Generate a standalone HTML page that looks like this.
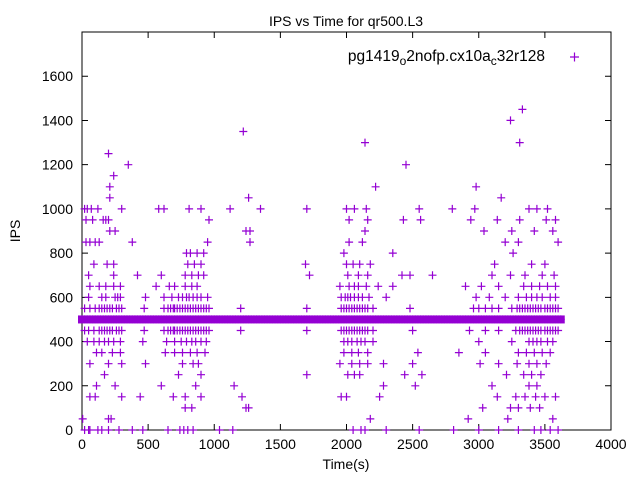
<!DOCTYPE html>
<html><head><meta charset="utf-8"><style>
body{margin:0;background:#fff}
svg{display:block;font-family:"Liberation Sans",sans-serif}
</style></head><body>
<svg id="chart" width="640" height="480">
<text x="346" y="26" text-anchor="middle" font-size="14">IPS vs Time for qr500.L3</text>
<text x="346" y="469" text-anchor="middle" font-size="14">Time(s)</text>
<text transform="translate(20,231) rotate(-90)" text-anchor="middle" font-size="14">IPS</text>
<g id="axes"></g>
<g id="marks"></g>
<g>
<text x="545" y="61" text-anchor="end" font-size="15.5">pg1419<tspan font-size="12" dy="4">o</tspan><tspan dy="-4">2nofp.cx10a</tspan><tspan font-size="12" dy="4">c</tspan><tspan dy="-4">32r128</tspan></text>
<path d="M570,57h9M574.5,52.5v9" stroke="#9400d3" stroke-width="1.2"/>
</g>
</svg>
<script>
const xTicks=[0,500,1000,1500,2000,2500,3000,3500,4000];
const yTicks=[0,200,400,600,800,1000,1200,1400,1600];
const bandTimes=[0,20,40,60,80,100,120,140,160,180,200,220,240,260,280,300,320,340,360,380,400,420,440,460,480,500,520,540,560,580,600,620,640,660,680,700,720,740,760,780,800,820,840,860,880,900,920,940,960,980,1000,1020,1040,1060,1080,1100,1120,1140,1160,1180,1200,1220,1240,1260,1280,1300,1320,1340,1360,1380,1400,1420,1440,1460,1480,1500,1520,1540,1560,1580,1600,1620,1640,1660,1680,1700,1720,1740,1760,1780,1800,1820,1840,1860,1880,1900,1920,1940,1960,1980,2000,2020,2040,2060,2080,2100,2120,2140,2160,2180,2200,2220,2240,2260,2280,2300,2320,2340,2360,2380,2400,2420,2440,2460,2480,2500,2520,2540,2560,2580,2600,2620,2640,2660,2680,2700,2720,2740,2760,2780,2800,2820,2840,2860,2880,2900,2920,2940,2960,2980,3000,3020,3040,3060,3080,3100,3120,3140,3160,3180,3200,3220,3240,3260,3280,3300,3320,3340,3360,3380,3400,3420,3440,3460,3480,3500,3520,3540,3560,3580,3600,3620];
const bandValue=500;
const levels=[550,450,600,400,650,350,700,300,750,250,800,200,850,150,900,100,950,50,1000,0];
const levelTimes=[
[20,60,100,130,150,170,190,210,230,260,280,300,470,620,650,670,690,700,720,740,760,780,800,820,840,860,880,900,920,940,960,1200,1700,1960,1980,2000,2020,2040,2060,2080,2100,2120,2140,2160,2200,2480,2960,3000,3050,3100,3150,3250,3290,3310,3330,3350,3370,3390,3410,3430,3450,3470,3500,3520,3540,3560,3580,3600],
[20,50,90,130,150,170,190,210,230,260,280,300,470,620,650,670,690,700,720,740,760,780,800,820,840,860,880,900,920,940,960,1200,1700,1960,1980,2000,2020,2040,2060,2080,2100,2120,2140,2160,2200,2500,2930,3050,3150,3280,3310,3330,3350,3370,3390,3410,3430,3450,3470,3500,3520,3540,3560,3580,3600],
[50,150,180,250,270,290,480,620,680,730,760,790,810,840,870,900,950,1960,1990,2010,2030,2060,2090,2120,2170,2300,2980,3080,3200,3300,3360,3400,3440,3480,3540,3580],
[40,90,130,170,200,240,290,460,640,700,750,790,830,860,900,940,1980,2010,2040,2080,2110,2140,2200,3000,3250,3380,3410,3440,3470,3520,3560],
[60,130,180,240,290,560,660,700,780,830,870,1950,2020,2060,2090,2150,2240,2350,2900,3020,3150,3340,3400,3460,3520,3580],
[110,150,230,290,630,700,760,820,870,930,1980,2040,2090,2160,2540,2850,3050,3300,3360,3420,3480,3540],
[50,240,420,600,780,830,880,920,1720,2010,2090,2160,2420,2480,2650,3100,3240,3350,3480,3570],
[60,200,300,480,760,840,880,1950,2040,2100,2160,2280,2500,3010,3150,3290,3380,3440,3510],
[90,190,240,800,850,900,1690,2000,2050,2100,2180,3120,3400,3500],
[170,730,900,1700,2010,2060,2100,2440,2570,3210,3340,3400,3470],
[790,820,870,920,1980,2350,3260],
[110,250,600,860,1150,2280,2520,3100,3380,3440],
[30,60,100,130,380,950,1270,2020,2120,3200,3300,3600],
[60,100,300,440,690,780,900,1210,1960,2000,2250,3140,3280,3350,3430,3500,3580],
[210,250,1240,1270,2140,3040,3250,3420,3560],
[780,830,1240,1260,3030,3240,3300,3390,3460],
[30,80,160,180,200,960,2020,2160,2430,2560,2940,3140,3310,3510,3580],
[5,200,220,2180,2920,3220,3560],
[20,40,70,120,300,580,620,810,900,1120,1350,1700,2000,2060,2150,2550,2800,2970,3380,3440,3520],
[20,50,60,120,150,200,280,380,460,650,740,770,800,840,1040,1140,2050,2110,2140,2300,2550,2810,3000,3150,3300,3420,3470,3540,3600]];
const extraTimes=[200,210,240,210,350,1220,1260,2140,2220,2450,2980,3240,3310,3330,3170];
const extraValues=[1250,1100,1150,1050,1200,1350,1050,1300,1100,1200,1100,1400,1300,1450,1050];

const L=82,R=611,T=32,B=430;
const sx=t=>L+(t-0)/4000*(R-L);
const sy=v=>B-v/1800*(B-T);
const NS="http://www.w3.org/2000/svg";
const axes=document.getElementById('axes'),marks=document.getElementById('marks');
function mk(p,tag,a){const e=document.createElementNS(NS,tag);for(const k in a)e.setAttribute(k,a[k]);p.appendChild(e);return e;}
const frame=mk(axes,'rect',{x:L,y:T,width:R-L,height:B-T,fill:'none',stroke:'#000','stroke-width':1});


xTicks.forEach(t=>{const x=sx(t);
 const l=mk(axes,'path',{d:`M${x},${B}v-6M${x},${T}v6`,stroke:'#000'});
 
 
 const tx=mk(axes,'text',{x:x,y:B+19,'text-anchor':'middle','font-size':14});tx.textContent=t;
 
 });
yTicks.forEach(v=>{const y=sy(v);
 const l=mk(axes,'path',{d:`M${L},${y}h6M${R},${y}h-6`,stroke:'#000'});
 
 
 const tx=mk(axes,'text',{x:L-9,y:y+5,'text-anchor':'end','font-size':14});tx.textContent=v;
 
 });
let d='';
const add=(t,v)=>{const x=sx(t),y=sy(v);d+=`M${(x-4).toFixed(1)},${y.toFixed(1)}h8M${x.toFixed(1)},${(y-4).toFixed(1)}v8`;};
bandTimes.forEach(t=>add(t,bandValue));
levels.forEach((v,i)=>levelTimes[i].forEach(t=>add(t,v)));
extraTimes.forEach((t,i)=>add(t,extraValues[i]));
const p=mk(marks,'path',{d:d,stroke:'#9400d3','stroke-width':1.2,fill:'none'});


const band=mk(marks,'rect',{x:sx(bandTimes[0])-4,y:sy(bandValue)-4,width:sx(bandTimes[bandTimes.length-1])-sx(bandTimes[0])+8,height:8,fill:'#9400d3'});


</script>
</body></html>
